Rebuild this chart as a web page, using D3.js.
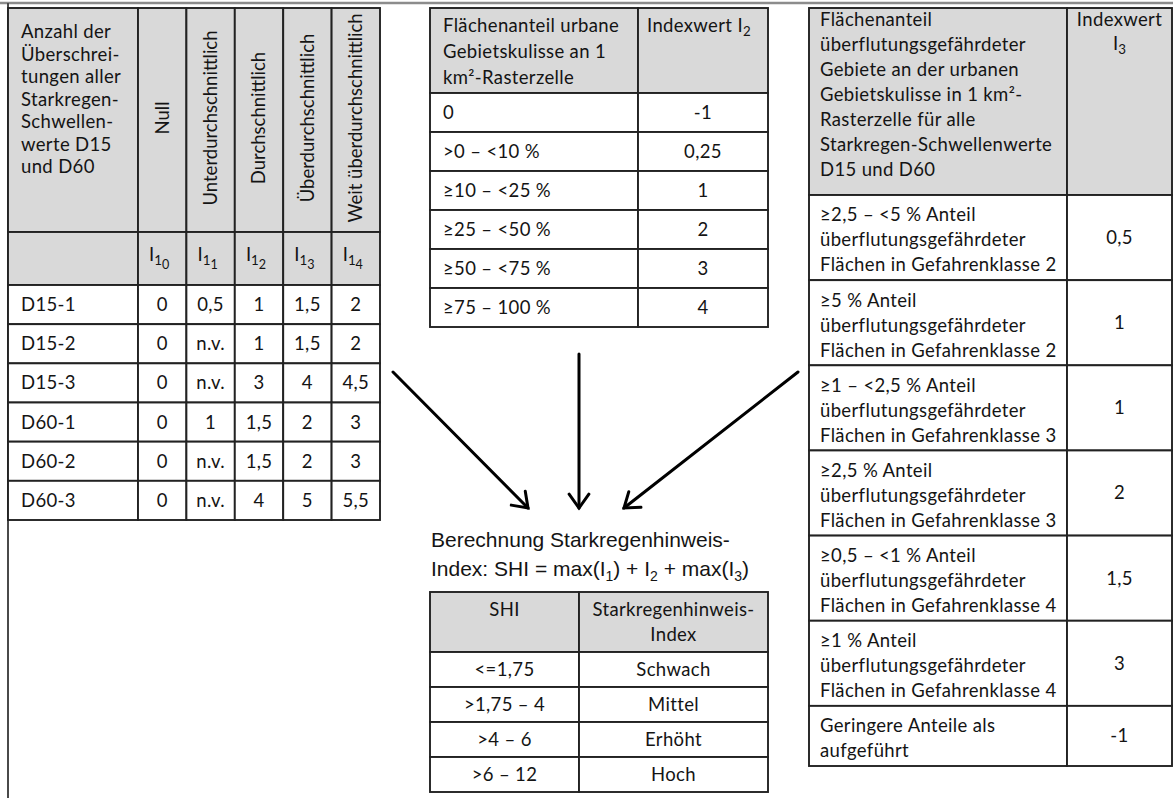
<!DOCTYPE html>
<html>
<head>
<meta charset="utf-8">
<script src="https://cdn.jsdelivr.net/npm/d3@7"></script>
<style>
  body { margin: 0; background: #fff; }
  svg { display: block; }
</style>
</head>
<body>
<script>
// I1 table: exceedances of the heavy-rain thresholds
const thresholdRows = ["D15-1", "D15-2", "D15-3", "D60-1", "D60-2", "D60-3"];
const i1Classes = ["Null", "Unterdurchschnittlich", "Durchschnittlich", "Überdurchschnittlich", "Weit überdurchschnittlich"];
const i1Subscripts = ["0", "1", "2", "3", "4"];
const i1Values = [
  [0, 0.5, 1, 1.5, 2],
  [0, null, 1, 1.5, 2],
  [0, null, 3, 4, 4.5],
  [0, 1, 1.5, 2, 3],
  [0, null, 1.5, 2, 3],
  [0, null, 4, 5, 5.5]
];
const i1HeaderLines = ["Anzahl der", "Überschrei-", "tungen aller", "Starkregen-", "Schwellen-", "werte D15", "und D60"];

// I2 table: urban share of the grid cell
const i2HeaderLines = ["Flächenanteil urbane", "Gebietskulisse an 1", "km²-Rasterzelle"];
const i2Ranges = ["0", ">0 – <10 %", "≥10 – <25 %", "≥25 – <50 %", "≥50 – <75 %", "≥75 – 100 %"];
const i2Values = [-1, 0.25, 1, 2, 3, 4];

// I3 table: share of flood-prone areas
const i3HeaderLines = ["Flächenanteil", "überflutungsgefährdeter", "Gebiete an der urbanen", "Gebietskulisse in 1 km²-", "Rasterzelle für alle", "Starkregen-Schwellenwerte", "D15 und D60"];
const i3Ranges = ["≥2,5 – <5 %", "≥5 %", "≥1 – <2,5 %", "≥2,5 %", "≥0,5 – <1 %", "≥1 %"];
const i3HazardClasses = [2, 2, 3, 3, 4, 4];
const i3RestLines = ["Geringere Anteile als", "aufgeführt"];
const i3Values = [0.5, 1, 1, 2, 1.5, 3, -1];

// SHI classes
const shiRanges = ["<=1,75", ">1,75 – 4", ">4 – 6", ">6 – 12"];
const shiClasses = ["Schwach", "Mittel", "Erhöht", "Hoch"];

const w = 1173;
const h = 798;
const headFill = "#d9d9d9";
const lineColor = "#222";
const textColor = "#141414";
const tableFont = "Lato, 'Open Sans', sans-serif";
const fs = 18.5;
const ls = 0.35;

const fmt = v => (v === null ? "n.v." : String(v).replace(".", ","));

const svg = d3.select("body").append("svg").attr("width", w).attr("height", h);
svg.append("rect").attr("width", w).attr("height", h).attr("fill", "#fff");

function rect(g, x, y, rw, rh, fill) {
  g.append("rect").attr("x", x).attr("y", y).attr("width", rw).attr("height", rh)
    .attr("fill", fill).attr("stroke", lineColor).attr("stroke-width", 1.9);
}

function label(g, x, y, str, anchor) {
  return g.append("text")
    .attr("x", x).attr("y", y)
    .attr("dy", "0.35em")
    .attr("text-anchor", anchor || "start")
    .attr("font-family", tableFont)
    .attr("font-size", fs)
    .attr("letter-spacing", ls)
    .attr("fill", textColor)
    .text(str);
}

// I with subscript (and optional second-level subscript)
function indexLabel(g, x, y, sub, subsub, anchor) {
  const t = g.append("text")
    .attr("x", x).attr("y", y).attr("dy", "0.35em")
    .attr("text-anchor", anchor || "middle")
    .attr("font-family", tableFont).attr("font-size", fs).attr("fill", textColor);
  t.append("tspan").text("I");
  t.append("tspan").attr("dy", 4).attr("font-size", fs * 0.72).text(sub);
  if (subsub) t.append("tspan").attr("dy", 4).attr("font-size", fs * 0.68).text(subsub);
  return t;
}

// frame lines of the page
svg.append("line").attr("x1", 0).attr("x2", w).attr("y1", 3).attr("y2", 3)
  .attr("stroke", "#8c8c8c").attr("stroke-width", 2.5);
svg.append("line").attr("x1", 8).attr("x2", 8).attr("y1", 3).attr("y2", h)
  .attr("stroke", "#4a4a4a").attr("stroke-width", 2);

// ---------- I1 table ----------
const t1 = svg.append("g");
const L = { x0: 8, x1: 138, x2: 380, top: 8, head: 232, sub: 285, bot: 520 };
const xI1 = d3.scaleBand().domain(i1Classes).range([L.x1, L.x2]);
const yI1 = d3.scaleBand().domain(thresholdRows).range([L.sub, L.bot]);

rect(t1, L.x0, L.top, L.x1 - L.x0, L.head - L.top, headFill);
rect(t1, L.x0, L.head, L.x1 - L.x0, L.sub - L.head, headFill);
i1Classes.forEach((c, j) => {
  rect(t1, xI1(c), L.top, xI1.bandwidth(), L.head - L.top, headFill);
  rect(t1, xI1(c), L.head, xI1.bandwidth(), L.sub - L.head, headFill);
  t1.append("text")
    .attr("transform", `translate(${xI1(c) + xI1.bandwidth() / 2},${(L.top + L.head) / 2 - 2}) rotate(-90)`)
    .attr("text-anchor", "middle").attr("dy", "0.35em")
    .attr("font-family", tableFont).attr("font-size", fs)
    .attr("fill", textColor)
    .text(c);
  indexLabel(t1, xI1(c) + xI1.bandwidth() / 2 - 3, (L.head + L.sub) / 2 - 4, "1", i1Subscripts[j]);
});
i1HeaderLines.forEach((s, k) => label(t1, L.x0 + 13, 32 + k * 22.5, s));

thresholdRows.forEach((r, i) => {
  rect(t1, L.x0, yI1(r), L.x1 - L.x0, yI1.bandwidth(), "#fff");
  label(t1, L.x0 + 13, yI1(r) + yI1.bandwidth() / 2, r);
  i1Classes.forEach((c, j) => {
    rect(t1, xI1(c), yI1(r), xI1.bandwidth(), yI1.bandwidth(), "#fff");
    label(t1, xI1(c) + xI1.bandwidth() / 2, yI1(r) + yI1.bandwidth() / 2, fmt(i1Values[i][j]), "middle");
  });
});

// ---------- I2 table ----------
const t2 = svg.append("g");
const M = { x0: 430, x1: 638, x2: 768, top: 8, head: 93, bot: 327 };
const yI2 = d3.scaleBand().domain(i2Ranges).range([M.head, M.bot]);

rect(t2, M.x0, M.top, M.x1 - M.x0, M.head - M.top, headFill);
rect(t2, M.x1, M.top, M.x2 - M.x1, M.head - M.top, headFill);
i2HeaderLines.forEach((s, k) => label(t2, M.x0 + 13, 26 + k * 26, s));
const i2Head = label(t2, (M.x1 + M.x2) / 2 - 4, 26, "Indexwert ", "middle");
i2Head.append("tspan").text("I");
i2Head.append("tspan").attr("dy", 4).attr("font-size", fs * 0.72).text("2");

i2Ranges.forEach((r, i) => {
  rect(t2, M.x0, yI2(r), M.x1 - M.x0, yI2.bandwidth(), "#fff");
  rect(t2, M.x1, yI2(r), M.x2 - M.x1, yI2.bandwidth(), "#fff");
  label(t2, M.x0 + 13, yI2(r) + yI2.bandwidth() / 2, r);
  label(t2, (M.x1 + M.x2) / 2, yI2(r) + yI2.bandwidth() / 2, fmt(i2Values[i]), "middle");
});

// ---------- I3 table ----------
const t3 = svg.append("g");
const R = { x0: 809, x1: 1067, x2: 1172, top: 8, head: 195, bot: 766 };
const rowsI3 = i3Ranges.map((r, i) => ({
  lines: [`${r} Anteil`, "überflutungsgefährdeter", `Flächen in Gefahrenklasse ${i3HazardClasses[i]}`],
  value: i3Values[i]
}));
rowsI3.push({ lines: i3RestLines, value: i3Values[i3Values.length - 1] });
const units = rowsI3.map(d => d.lines.length + 0.4);
const cum = [0, ...d3.cumsum(units)];
const yI3 = d3.scaleLinear().domain([0, cum[cum.length - 1]]).range([R.head, R.bot]);

rect(t3, R.x0, R.top, R.x1 - R.x0, R.head - R.top, headFill);
rect(t3, R.x1, R.top, R.x2 - R.x1, R.head - R.top, headFill);
i3HeaderLines.forEach((s, k) => label(t3, R.x0 + 11, 20 + k * 25, s));
label(t3, (R.x1 + R.x2) / 2, 20, "Indexwert", "middle");
indexLabel(t3, (R.x1 + R.x2) / 2, 44, "3");

rowsI3.forEach((d, i) => {
  const y0 = yI3(cum[i]);
  const y1 = yI3(cum[i + 1]);
  rect(t3, R.x0, y0, R.x1 - R.x0, y1 - y0, "#fff");
  rect(t3, R.x1, y0, R.x2 - R.x1, y1 - y0, "#fff");
  d.lines.forEach((s, k) => label(t3, R.x0 + 11, y0 + 20 + k * 25, s));
  label(t3, (R.x1 + R.x2) / 2, (y0 + y1) / 2, fmt(d.value), "middle");
});

// ---------- arrows ----------
const arrows = [
  { from: [393, 372], to: [528, 508] },
  { from: [579, 354], to: [579, 508] },
  { from: [798, 372], to: [624, 508] }
];
const ag = svg.append("g").attr("stroke", "#000").attr("stroke-width", 3)
  .attr("fill", "none").attr("stroke-linecap", "round").attr("stroke-linejoin", "miter");
arrows.forEach(a => {
  const [x0, y0] = a.from;
  const [x1, y1] = a.to;
  const ang = Math.atan2(y1 - y0, x1 - x0);
  const len = 17;
  const spread = 0.62;
  ag.append("line").attr("x1", x0).attr("y1", y0).attr("x2", x1).attr("y2", y1);
  ag.append("polyline").attr("points", [
    [x1 - len * Math.cos(ang - spread), y1 - len * Math.sin(ang - spread)],
    [x1, y1],
    [x1 - len * Math.cos(ang + spread), y1 - len * Math.sin(ang + spread)]
  ].map(p => p.join(",")).join(" "));
});

// ---------- formula ----------
const formulaFont = "'Liberation Sans', Arial, sans-serif";
const ffs = 21;
svg.append("text").attr("x", 431).attr("y", 540).attr("dy", "0.35em")
  .attr("font-family", formulaFont).attr("font-size", ffs).attr("fill", textColor)
  .text("Berechnung Starkregenhinweis-");
const f2 = svg.append("text").attr("x", 431).attr("y", 569).attr("dy", "0.35em")
  .attr("font-family", formulaFont).attr("font-size", ffs).attr("fill", textColor);
f2.append("tspan").text("Index:  SHI = max(I");
f2.append("tspan").attr("dy", 5).attr("font-size", 14).text("1");
f2.append("tspan").attr("dy", -5).text(")  + I");
f2.append("tspan").attr("dy", 5).attr("font-size", 14).text("2");
f2.append("tspan").attr("dy", -5).text(" + max(I");
f2.append("tspan").attr("dy", 5).attr("font-size", 14).text("3");
f2.append("tspan").attr("dy", -5).text(")");

// ---------- SHI table ----------
const t4 = svg.append("g");
const S = { x0: 430, x1: 579, x2: 768, top: 592, head: 652, bot: 792 };
const yShi = d3.scaleBand().domain(shiRanges).range([S.head, S.bot]);

rect(t4, S.x0, S.top, S.x1 - S.x0, S.head - S.top, headFill);
rect(t4, S.x1, S.top, S.x2 - S.x1, S.head - S.top, headFill);
label(t4, (S.x0 + S.x1) / 2, 610, "SHI", "middle");
label(t4, (S.x1 + S.x2) / 2, 610, "Starkregenhinweis-", "middle");
label(t4, (S.x1 + S.x2) / 2, 635, "Index", "middle");

shiRanges.forEach((r, i) => {
  rect(t4, S.x0, yShi(r), S.x1 - S.x0, yShi.bandwidth(), "#fff");
  rect(t4, S.x1, yShi(r), S.x2 - S.x1, yShi.bandwidth(), "#fff");
  label(t4, (S.x0 + S.x1) / 2, yShi(r) + yShi.bandwidth() / 2, r, "middle");
  label(t4, (S.x1 + S.x2) / 2, yShi(r) + yShi.bandwidth() / 2, shiClasses[i], "middle");
});
</script>
</body>
</html>
